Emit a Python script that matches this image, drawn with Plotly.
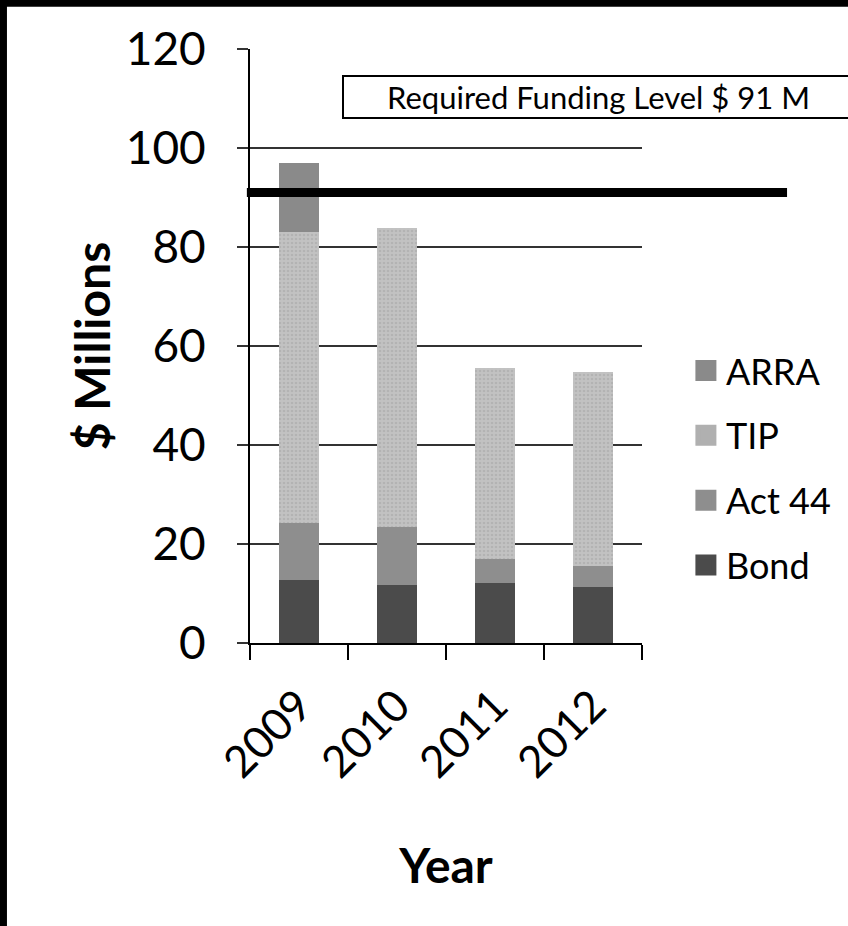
import plotly.graph_objects as go

years = ["2009", "2010", "2011", "2012"]
bond = [12.7, 11.7, 12.1, 11.3]
act44 = [11.5, 11.7, 4.9, 4.3]
tip = [58.8, 60.4, 38.6, 39.1]
arra = [14.0, None, None, None]
required_level = 91
required_label = "Required Funding Level $ 91 M"
y_ticks = [0, 20, 40, 60, 80, 100, 120]

series = [
    ("Bond", bond, "#4b4b4b", None),
    ("Act 44", act44, "#8e8e8e", None),
    ("TIP", tip, "#c2c2c2", "#a4a4a4"),
    ("ARRA", arra, "#8a8a8a", None),
]

FONT = "Lato"
fig = go.Figure()
for name, vals, color, speck in series:
    marker = dict(color=color, line=dict(width=0))
    if speck:
        marker["pattern"] = dict(shape=".", bgcolor=color, fgcolor=speck, size=4, solidity=0.35)
    fig.add_trace(go.Bar(x=years, y=vals, name=name, marker=marker, showlegend=False))

# legend proxies (top-to-bottom order as in the original)
for name, vals, color, speck in reversed(series):
    c = color if not speck else "#b0b0b0"
    fig.add_trace(go.Scatter(
        x=[None], y=[None], mode="markers", name=name, legendgroup=name,
        marker=dict(symbol="square", size=16, color=c, line=dict(width=5, color=c)),
        showlegend=True, hoverinfo="skip"))

fig.update_layout(
    width=848, height=926,
    margin=dict(l=250, r=206, t=49, b=283),
    paper_bgcolor="white", plot_bgcolor="white",
    barmode="stack", bargap=0.6,
    font=dict(family=FONT, color="black"),
    legend=dict(x=1.112, y=0.509, xanchor="left", yanchor="top",
                font=dict(family=FONT, size=36, color="black"),
                traceorder="grouped", tracegroupgap=15,
                bgcolor="rgba(0,0,0,0)"),
    xaxis=dict(
        type="category", showline=True, linecolor="black", linewidth=2,
        ticks="outside", tickson="boundaries", ticklen=15, tickwidth=2, tickcolor="black",
        tickangle=-45, tickfont=dict(family=FONT, size=44, color="black"),
        ticklabelstandoff=17,
        showgrid=False,
        title=dict(text="<b>Year</b>", font=dict(family=FONT, size=48, color="black"), standoff=63),
    ),
    yaxis=dict(
        range=[0, 120], tickvals=y_ticks, showline=True, linecolor="black", linewidth=2,
        ticks="outside", ticklen=11, tickwidth=2, tickcolor="#333",
        tickfont=dict(family=FONT, size=46, color="black"), ticklabelstandoff=22,
        showgrid=True, gridcolor="#333333", gridwidth=1.5, zeroline=False,
        title=dict(text="<b>$ Millions</b>", font=dict(family=FONT, size=48, color="black"), standoff=0),
    ),
    shapes=[
        dict(type="line", xref="paper", yref="y", x0=-0.008, x1=1.37,
             y0=required_level, y1=required_level, line=dict(color="black", width=9), layer="above"),
        # black frame along the top and left edges of the image
        dict(type="rect", xref="paper", yref="paper", x0=-0.64, x1=1.54, y0=1.071, y1=1.09,
             fillcolor="black", line=dict(width=0)),
        dict(type="rect", xref="paper", yref="paper", x0=-0.64, x1=-0.62, y0=-0.48, y1=1.09,
             fillcolor="black", line=dict(width=0)),
    ],
    annotations=[
        dict(text=required_label, xref="paper", yref="paper", x=0.2347, y=0.957,
             xanchor="left", yanchor="top", showarrow=False, width=507, height=38,
             align="center", bordercolor="black", borderwidth=2, bgcolor="white",
             font=dict(family=FONT, size=31, color="black")),
    ],
)

fig.write_html("out.html", config={"displayModeBar": False},
               post_script="document.body.style.margin='0';document.body.style.overflow='hidden';")
